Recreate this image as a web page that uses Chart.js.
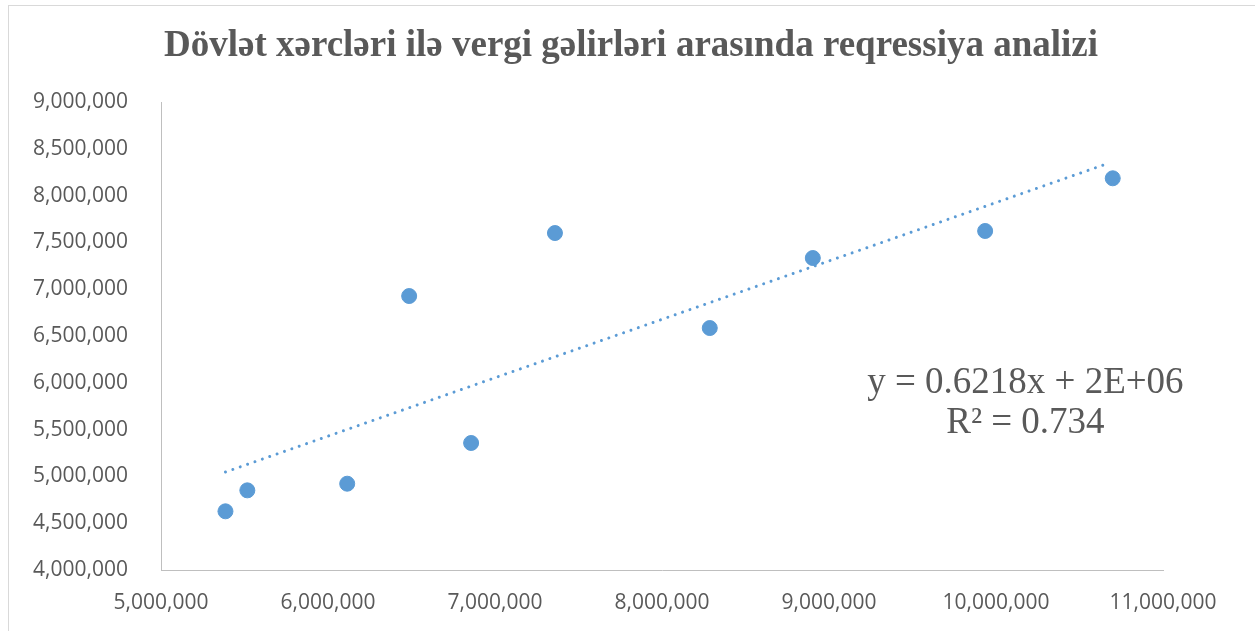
<!DOCTYPE html>
<html>
<head>
<meta charset="utf-8">
<script src="https://cdn.jsdelivr.net/npm/chart.js@4.4.0/dist/chart.umd.min.js"></script>
<style>
  html, body { margin: 0; padding: 0; background: #fff; }
  #wrap { width: 1255px; height: 631px; position: relative; }
</style>
</head>
<body>
<div id="wrap"><canvas id="chart"></canvas></div>
<script>
const chartTitle = 'Dövlət xərcləri ilə vergi gəlirləri arasında reqressiya analizi';

// Dövlət xərcləri (x) and vergi gəlirləri (y)
const spending = [5386000, 5517000, 6115000, 6486000, 6857000, 7359000, 8286000, 8903000, 9935000, 10699000];
const revenue  = [4627000, 4851000, 4922000, 6927000, 5357000, 7600000, 6585000, 7333000, 7622000, 8185000];

// Excel linear trendline endpoints
const trendX = [5386000, 10661000];
const trendY = [5047000, 8338000];

const equationLines = ['y = 0.6218x + 2E+06', 'R² = 0.734'];
const equationAt = { x: 10176000, y: [6000000, 5565000] };

const xTicks = { min: 5000000, max: 11000000, step: 1000000 };
const yTicks = { min: 4000000, max: 9000000, step: 500000 };

const grey = '#595959';
const blue = '#5B9BD5';

const frame = {
  id: 'frame',
  beforeDraw(chart) {
    const c = chart.ctx;
    c.save();
    c.strokeStyle = '#d9d9d9';
    c.lineWidth = 1;
    c.strokeRect(8.5, 5.5, chart.width + 50, chart.height + 50);
    c.restore();
  },
  afterDraw(chart) {
    const c = chart.ctx;
    const { x, y } = chart.scales;
    c.save();
    c.fillStyle = grey;
    c.textAlign = 'center';
    c.textBaseline = 'middle';
    c.font = 'bold 37px "Liberation Serif", "Times New Roman", serif';
    c.fillText(chartTitle, 631, 46);
    c.font = '37px "Liberation Serif", "Times New Roman", serif';
    equationLines.forEach((line, i) => {
      c.fillText(line, x.getPixelForValue(equationAt.x), y.getPixelForValue(equationAt.y[i]));
    });
    c.restore();
  }
};

const fmt = v => v.toLocaleString('en-US');

new Chart(document.getElementById('chart'), {
  type: 'scatter',
  data: {
    datasets: [
      {
        label: 'data',
        data: spending.map((v, i) => ({ x: v, y: revenue[i] })),
        backgroundColor: blue,
        borderColor: blue,
        pointRadius: 7.5,
        pointHoverRadius: 7.5,
      },
      {
        label: 'trend',
        type: 'line',
        data: trendX.map((v, i) => ({ x: v, y: trendY[i] })),
        borderColor: blue,
        borderWidth: 3,
        borderDash: [0.01, 7.8],
        borderCapStyle: 'round',
        pointRadius: 0,
        fill: false,
      },
    ],
  },
  options: {
    responsive: true,
    maintainAspectRatio: false,
    animation: false,
    layout: { padding: { top: 102, right: 92, bottom: 0, left: 0 } },
    plugins: {
      legend: { display: false },
      title: { display: false },
      tooltip: { enabled: false },
    },
    scales: {
      x: {
        type: 'linear',
        min: xTicks.min,
        max: xTicks.max,
        ticks: {
          stepSize: xTicks.step,
          color: grey,
          font: { family: '"Open Sans", sans-serif', size: 21 },
          padding: 20,
          callback: fmt,
        },
        grid: { display: false, drawTicks: false },
        border: { display: true, color: '#bfbfbf', width: 1 },
        afterFit(scale) { scale.height = 61; },
      },
      y: {
        type: 'linear',
        min: yTicks.min,
        max: yTicks.max,
        ticks: {
          stepSize: yTicks.step,
          color: grey,
          font: { family: '"Open Sans", sans-serif', size: 21 },
          padding: 33,
          callback: fmt,
        },
        grid: { display: false, drawTicks: false },
        border: { display: true, color: '#bfbfbf', width: 1 },
        afterFit(scale) { scale.width = 161; },
      },
    },
  },
  plugins: [frame],
});
</script>
</body>
</html>
